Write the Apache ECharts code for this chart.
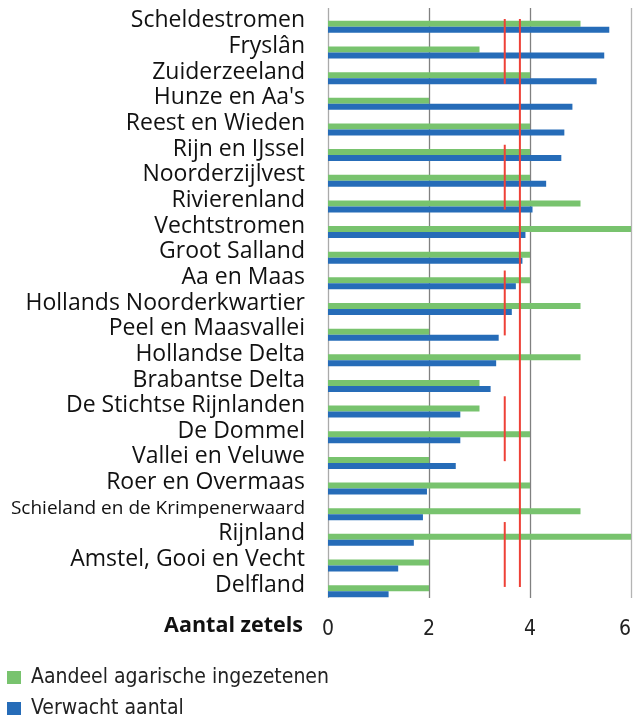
<!DOCTYPE html>
<html>
<head>
<meta charset="utf-8">
<script src="https://cdn.jsdelivr.net/npm/echarts@6/dist/echarts.min.js"></script>
<style>
  html, body { margin: 0; padding: 0; background: #fff; }
  #chart { width: 634px; height: 720px; }
</style>
</head>
<body>
<div id="chart"></div>
<script>
// waterschappen, top to bottom
var categories = ['Scheldestromen', 'Fryslân', 'Zuiderzeeland', "Hunze en Aa's", 'Reest en Wieden',
  'Rijn en IJssel', 'Noorderzijlvest', 'Rivierenland', 'Vechtstromen', 'Groot Salland',
  'Aa en Maas', 'Hollands Noorderkwartier', 'Peel en Maasvallei', 'Hollandse Delta', 'Brabantse Delta',
  'De Stichtse Rijnlanden', 'De Dommel', 'Vallei en Veluwe', 'Roer en Overmaas',
  'Schieland en de Krimpenerwaard', 'Rijnland', 'Amstel, Gooi en Vecht', 'Delfland'];

var aandeelAgrarisch = [5, 3, 4, 2, 4, 4, 4, 5, 6, 4, 4, 5, 2, 5, 3, 3, 4, 2, 4, 5, 6, 2, 2];
var verwachtAantal = [5.57, 5.47, 5.32, 4.84, 4.68, 4.62, 4.32, 4.05, 3.91, 3.85, 3.72, 3.64, 3.38,
  3.33, 3.22, 2.62, 2.62, 2.53, 1.96, 1.88, 1.70, 1.39, 1.20];

var xTicks = [0, 2, 4, 6];

// red reference lines: value, and the row ranges they cover
var refLow = 3.5;
var refLowGroups = [['Scheldestromen', 'Zuiderzeeland'], ['Rijn en IJssel', 'Rivierenland'],
  ['Aa en Maas', 'Peel en Maasvallei'], ['De Stichtse Rijnlanden', 'Vallei en Veluwe'],
  ['Rijnland', 'Delfland']];
var refHigh = 3.8;
var refHighGroups = [['Scheldestromen', 'Delfland']];

var labelFont = 'Open Sans';
var narrowFont = "'Liberation Sans Narrow', 'DejaVu Sans Condensed', Roboto, sans-serif";

function refSeries(value, groups) {
  return groups.map(function (g) {
    var a = categories.indexOf(g[0]);
    var b = categories.indexOf(g[1]);
    return {
      type: 'line',
      xAxisIndex: 0,
      yAxisIndex: 1,
      silent: true,
      symbol: 'none',
      lineStyle: { color: '#EE4137', width: 2 },
      data: [[value, a], [value, b + 0.58]],
      z: 5
    };
  });
}

var chart = echarts.init(document.getElementById('chart'));

var series = [
  // two empty slots so the visible pair sits below the row centre
  { type: 'bar', name: 'pad1', data: [], barWidth: 6, barGap: '0%' },
  { type: 'bar', name: 'pad2', data: [], barWidth: 6, barGap: '0%' },
  {
    type: 'bar', name: 'Aandeel agarische ingezetenen', data: aandeelAgrarisch,
    barWidth: 6, barGap: '0%', itemStyle: { color: '#78C36E' }
  },
  {
    type: 'bar', name: 'Verwacht aantal', data: verwachtAantal,
    barWidth: 6, barGap: '0%', itemStyle: { color: '#266CB8' }
  }
].concat(refSeries(refLow, refLowGroups), refSeries(refHigh, refHighGroups));

chart.setOption({
  animation: false,
  title: {
    text: 'Aantal zetels',
    right: 331,
    top: 615,
    padding: 0,
    textStyle: { fontFamily: labelFont, fontWeight: 'bold', fontSize: 21.5, color: '#111' }
  },
  legend: {
    data: ['Aandeel agarische ingezetenen', 'Verwacht aantal'],
    orient: 'vertical',
    left: 7,
    top: 667,
    padding: 0,
    icon: 'rect',
    itemWidth: 14,
    itemHeight: 13,
    itemGap: 10,
    textStyle: { fontFamily: narrowFont, fontSize: 21, lineHeight: 21, color: '#222', padding: [0, 0, 0, 5] }
  },
  grid: { left: 328, right: 3, top: 8, bottom: 122, outerBoundsMode: 'none' },
  xAxis: {
    type: 'value',
    min: xTicks[0],
    max: xTicks[xTicks.length - 1],
    interval: 2,
    axisLine: { show: false },
    axisTick: { show: false },
    axisLabel: { fontFamily: narrowFont, fontSize: 21, color: '#222', margin: 21, alignMaxLabel: 'right' },
    splitLine: { lineStyle: { color: ['#aaaaaa', '#808080', '#808080', '#b4b4b4'], width: 1.3 } }
  },
  yAxis: [{
    type: 'category',
    data: categories,
    inverse: true,
    axisLine: { show: false },
    axisTick: { show: false },
    axisLabel: {
      interval: 0,
      margin: 23,
      fontFamily: labelFont,
      fontSize: 23,
      color: '#111',
      formatter: function (v) {
        return v.length > 25 ? '{s|' + v + '}' : v;
      },
      rich: { s: { fontFamily: labelFont, fontSize: 19, color: '#111' } }
    }
  }, {
    type: 'value',
    inverse: true,
    show: false,
    min: -0.437,
    max: 23.02
  }],
  series: series
});
</script>
</body>
</html>
